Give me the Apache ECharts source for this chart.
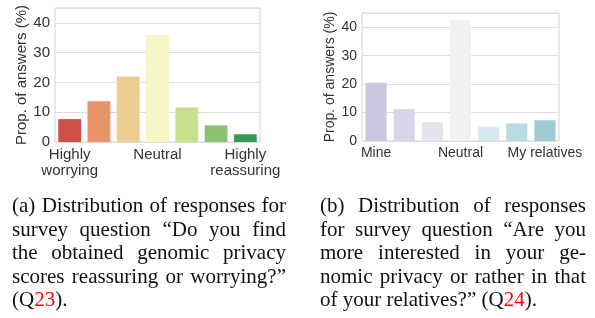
<!DOCTYPE html>
<html>
<head>
<meta charset="utf-8">
<script src="https://cdn.jsdelivr.net/npm/echarts@6/dist/echarts.min.js"></script>
<style>
  body { margin: 0; background: #fff; }
  #wrap { position: relative; width: 595px; height: 318px; overflow: hidden; }
  #chart { position: absolute; left: 0; top: 0; width: 595px; height: 318px; }
  .cap { position: absolute; font-family: "Liberation Serif", serif; font-size: 21px; line-height: 23.6px; color: #111; }
  .cap div { text-align: justify; text-align-last: justify; white-space: nowrap; }
  .cap div.last { text-align: left; text-align-last: left; }
  .red { color: #ff0000; }
</style>
</head>
<body>
<div id="wrap">
  <div id="chart"></div>
  <div class="cap" style="left:12px; top:194px; width:274px;">
    <div>(a) Distribution of responses for</div>
    <div>survey question “Do you find</div>
    <div>the obtained genomic privacy</div>
    <div>scores reassuring or worrying?”</div>
    <div class="last">(Q<span class="red">23</span>).</div>
  </div>
  <div class="cap" style="left:320px; top:194px; width:266px;">
    <div>(b) Distribution of responses</div>
    <div>for survey question “Are you</div>
    <div>more interested in your ge-</div>
    <div>nomic privacy or rather in that</div>
    <div class="last">of your relatives?” (Q<span class="red">24</span>).</div>
  </div>
</div>
<script>
// (a) Q23: worrying -> reassuring
var labelsA = ['Highly\nworrying', '', '', 'Neutral', '', '', 'Highly\nreassuring'];
var valuesA = [7.7, 13.7, 22.0, 35.9, 11.6, 5.6, 2.6];
var colorsA = ['#cb5045', '#e8946a', '#eecd90', '#f6f5c5', '#c8df8d', '#8cc073', '#3b9657'];

// (b) Q24: mine -> my relatives
var labelsB = ['Mine', '', '', 'Neutral', '', '', 'My relatives'];
var valuesB = [20.5, 11.2, 6.6, 42.5, 5.0, 6.2, 7.3];
var colorsB = ['#c9c6e0', '#d8d5e8', '#e6e4f0', '#f1f1f1', '#d6e9ee', '#b9dce2', '#9fcbd4'];

var yMax = 45;
var font = 'Liberation Sans';
var textColor = '#333';

function barData(vals, cols) {
    return vals.map(function (v, i) {
        return { value: v, itemStyle: { color: cols[i] } };
    });
}

function xAxis(idx, labels, size) {
    return {
        type: 'category',
        gridIndex: idx,
        data: labels,
        axisLine: { show: false },
        axisTick: { show: false },
        axisLabel: { interval: 0, margin: 5, color: textColor, fontFamily: font, fontSize: size, lineHeight: size + 1 }
    };
}

function yAxis(idx, size, gap) {
    return {
        type: 'value',
        gridIndex: idx,
        min: 0,
        max: yMax,
        interval: 10,
        name: 'Prop. of answers (%)',
        nameLocation: 'middle',
        nameGap: gap,
        nameTextStyle: { color: textColor, fontFamily: font, fontSize: size },
        axisLine: { show: false },
        axisTick: { show: false },
        axisLabel: { showMaxLabel: false, margin: 5, color: textColor, fontFamily: font, fontSize: size },
        splitLine: { lineStyle: { color: '#dedede', width: 1 } }
    };
}

var chart = echarts.init(document.getElementById('chart'));
chart.setOption({
    animation: false,
    grid: [
        { left: 55, top: 8, width: 205, height: 134, show: true, borderColor: '#d4d4d4', borderWidth: 1 },
        { left: 362, top: 13, width: 197, height: 128, show: true, borderColor: '#d4d4d4', borderWidth: 1 }
    ],
    xAxis: [xAxis(0, labelsA, 15), xAxis(1, labelsB, 14)],
    yAxis: [yAxis(0, 15, 25), yAxis(1, 14, 23)],
    series: [
        { type: 'bar', xAxisIndex: 0, yAxisIndex: 0, barCategoryGap: '22%', data: barData(valuesA, colorsA) },
        { type: 'bar', xAxisIndex: 1, yAxisIndex: 1, barCategoryGap: '25%', data: barData(valuesB, colorsB) }
    ]
});
</script>
</body>
</html>
